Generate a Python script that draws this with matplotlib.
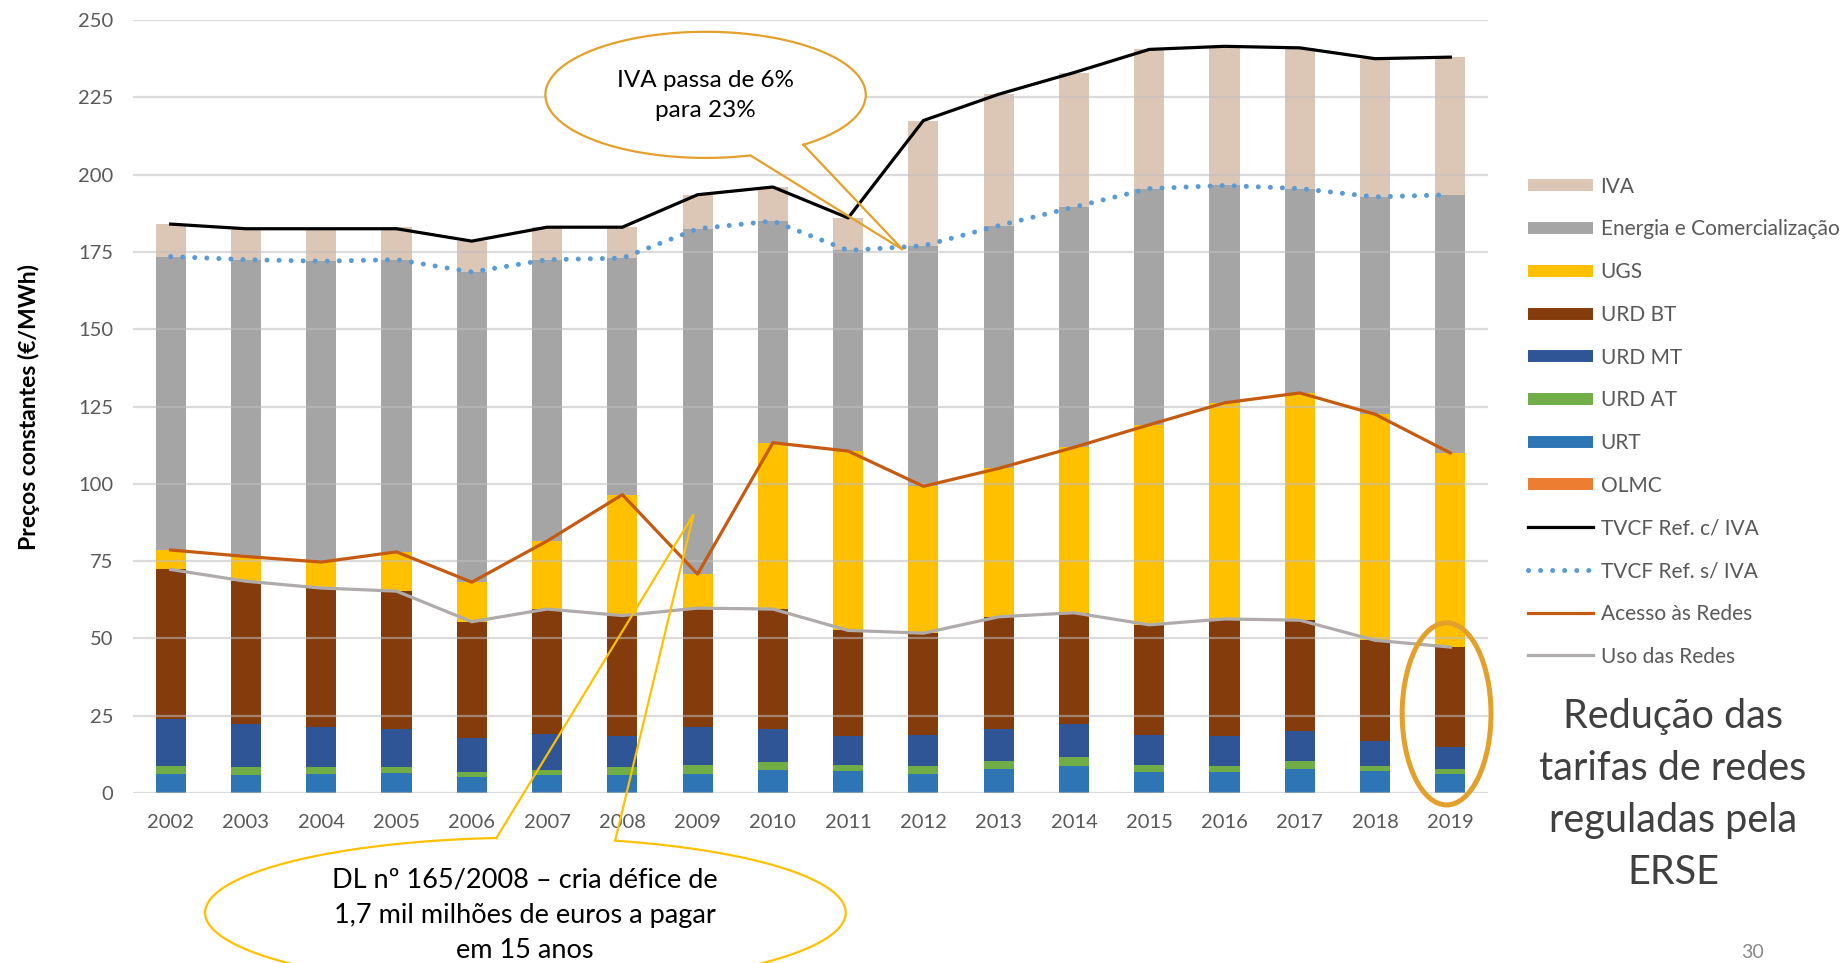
import numpy as np
import matplotlib
matplotlib.use('Agg')
import matplotlib.pyplot as plt
from matplotlib.patches import Ellipse
from matplotlib.lines import Line2D

plt.rcParams['font.family'] = ['Lato', 'DejaVu Sans']

# data (EUR/MWh, constant prices)
years = ['2002', '2003', '2004', '2005', '2006', '2007', '2008', '2009', '2010',
         '2011', '2012', '2013', '2014', '2015', '2016', '2017', '2018', '2019']
olmc = [0.0] * 18
urt = [6.3, 5.9, 6.3, 6.6, 5.2, 5.9, 5.9, 6.3, 7.6, 7.1, 6.3, 7.9, 8.7, 6.7, 6.7, 7.9, 7.1, 6.0]
urd_at = [2.4, 2.4, 2.0, 1.7, 1.5, 1.7, 2.4, 2.8, 2.3, 2.0, 2.4, 2.4, 2.8, 2.4, 2.0, 2.4, 1.6, 1.9]
urd_mt = [15.4, 13.9, 13.1, 12.4, 11.0, 11.4, 10.0, 12.3, 10.8, 9.2, 10.0, 10.4, 10.8, 9.6, 9.6, 9.9, 8.0, 7.1]
urd_bt = [48.2, 46.3, 44.9, 44.6, 37.7, 40.5, 39.1, 38.4, 38.8, 34.3, 33.0, 36.3, 36.0, 35.7, 38.0, 35.7, 32.7, 32.2]
ugs = [6.3, 8.0, 8.4, 12.7, 12.8, 22.0, 39.1, 11.0, 53.8, 58.0, 47.5, 48.0, 53.5, 64.7, 69.9, 73.5, 73.1, 62.8]
energia = [94.9, 96.0, 97.3, 94.5, 100.3, 91.0, 76.5, 111.7, 71.7, 64.9, 77.8, 78.5, 77.7, 76.4, 70.3, 66.1, 70.3, 83.5]
iva = [10.5, 10.0, 10.5, 10.5, 10.0, 10.5, 10.0, 11.0, 11.0, 10.5, 40.5, 42.5, 43.5, 45.0, 45.0, 45.5, 44.7, 44.5]

tvcf_c_iva = [184.0, 182.5, 182.5, 182.5, 178.5, 183.0, 183.0, 193.5, 196.0, 186.0, 217.5, 226.0, 233.0, 240.5, 241.5, 241.0, 237.5, 238.0]
tvcf_s_iva = [173.5, 172.5, 172.0, 172.5, 168.5, 172.5, 173.0, 182.5, 185.0, 175.5, 177.0, 183.5, 189.5, 195.5, 196.5, 195.5, 192.8, 193.5]
acesso = [78.6, 76.5, 74.7, 78.0, 68.2, 81.5, 96.5, 70.8, 113.3, 110.6, 99.2, 105.0, 111.8, 119.1, 126.2, 129.4, 122.5, 110.0]
uso = [72.3, 68.5, 66.3, 65.3, 55.4, 59.5, 57.4, 59.8, 59.5, 52.6, 51.7, 57.0, 58.3, 54.4, 56.3, 55.9, 49.4, 47.2]

fig = plt.figure(figsize=(18.45, 9.63), dpi=100)
ax = fig.add_axes([0.0721, 0.1765, 0.7344, 0.8027])
x = np.arange(len(years))
width = 0.40

stack = [('OLMC', olmc, '#ED7D31'),
         ('URT', urt, '#2E75B6'),
         ('URD AT', urd_at, '#70AD47'),
         ('URD MT', urd_mt, '#2F5597'),
         ('URD BT', urd_bt, '#843C0C'),
         ('UGS', ugs, '#FFC000'),
         ('Energia e Comercialização', energia, '#A5A5A5'),
         ('IVA', iva, '#DCC6B6')]

bottom = np.zeros(len(years))
bars = {}
for name, vals, col in stack:
    bars[name] = ax.bar(x, vals, width, bottom=bottom, color=col, linewidth=0, label=name)
    bottom += np.array(vals)

l_c, = ax.plot(x, tvcf_c_iva, color='black', lw=2.3, zorder=4, label='TVCF Ref. c/ IVA')
l_s, = ax.plot(x, tvcf_s_iva, color='#5B9BD5', lw=3.6, linestyle=(0, (0.01, 2.4)),
               dash_capstyle='round', zorder=4, label='TVCF Ref. s/ IVA')
l_a, = ax.plot(x, acesso, color='#C55A11', lw=2.3, zorder=4, label='Acesso às Redes')
l_u, = ax.plot(x, uso, color='#AFABAB', lw=2.3, zorder=4, label='Uso das Redes')

ax.set_xlim(-0.5, len(years) - 0.5)
ax.set_ylim(0, 250)
ax.set_yticks(np.arange(0, 251, 25))
ax.set_xticks(x)
ax.set_xticklabels(years)
ax.set_axisbelow(False)
ax.yaxis.grid(True, color='#BFBFBF', alpha=0.55, lw=1.6)
ax.tick_params(axis='both', length=0, labelsize=14.5, labelcolor='#595959')
ax.tick_params(axis='x', pad=15)
ax.tick_params(axis='y', pad=14)
for sp in ax.spines.values():
    sp.set_visible(False)
ax.set_ylabel('Preços constantes (€/MWh)', fontsize=16.5, fontweight='bold', color='black')
ax.yaxis.set_label_coords(-0.0686, 0.5)

# legend
order = ['IVA', 'Energia e Comercialização', 'UGS', 'URD BT', 'URD MT', 'URD AT', 'URT', 'OLMC']
handles = [Line2D([0], [0], color=bars[n].patches[0].get_facecolor(), lw=8.6, solid_capstyle='butt') for n in order]
handles += [l_c, l_s, l_a, l_u]
labels = order + ['TVCF Ref. c/ IVA', 'TVCF Ref. s/ IVA', 'Acesso às Redes', 'Uso das Redes']
leg = fig.legend(handles, labels, loc='upper left', bbox_to_anchor=(0.828, 0.8165),
                 frameon=False, fontsize=15, handlelength=3.12, handletextpad=0.38,
                 labelspacing=1.09, borderpad=0, borderaxespad=0)
for t in leg.get_texts():
    t.set_color('#595959')


def callout(ax, center, a, b, base1, base2, tip, color, lw):
    cx, cy = center
    t1 = np.arctan2((base1[1] - cy) / b, (base1[0] - cx) / a)
    t2 = np.arctan2((base2[1] - cy) / b, (base2[0] - cx) / a)
    lo, hi = min(t1, t2), max(t1, t2)
    th = np.linspace(hi, lo + 2 * np.pi, 300)
    px = list(cx + a * np.cos(th)) + [tip[0], cx + a * np.cos(hi)]
    py = list(cy + b * np.sin(th)) + [tip[1], cy + b * np.sin(hi)]
    ax.add_patch(Ellipse((cx, cy), 2 * a, 2 * b, facecolor='white', edgecolor='none',
                         zorder=5, clip_on=False))
    ax.plot(px, py, color=color, lw=lw, zorder=6, clip_on=False, solid_joinstyle='miter')


# IVA callout
callout(ax, (7.106, 225.8), 2.128, 20.4, (7.705, 206.1), (8.41, 209.6), (9.727, 175.7), '#E3A02A', 1.6)
ax.text(7.106, 225.6, 'IVA passa de 6%\npara 23%', ha='center', va='center', fontsize=17.5,
        linespacing=1.55, color='black', zorder=7)

# DL callout
callout(ax, (4.713, -38.7), 4.255, 24.26, (4.322, -14.2), (5.936, -14.8), (6.946, 90.1), '#FFC000', 1.6)
ax.text(4.70, -39.5, 'DL nº 165/2008 – cria défice de\n1,7 mil milhões de euros a pagar\nem 15 anos',
        ha='center', va='center', fontsize=19.5, linespacing=1.5, color='black', zorder=7, clip_on=False)

# 2019 highlight
ax.add_patch(Ellipse((16.95, 25.6), 1.18, 58.9, facecolor='none', edgecolor='#E3A02A', lw=3.6,
                     zorder=6, clip_on=False))

fig.text(0.9068, 0.175, 'Redução das\ntarifas de redes\nreguladas pela\nERSE', ha='center', va='center',
         fontsize=28.5, color='#404040', linespacing=1.5)
fig.text(1753 / 1845, 0.002, '30', ha='center', va='bottom', fontsize=14, color='#898989')

fig.savefig('out.png', dpi=100)
